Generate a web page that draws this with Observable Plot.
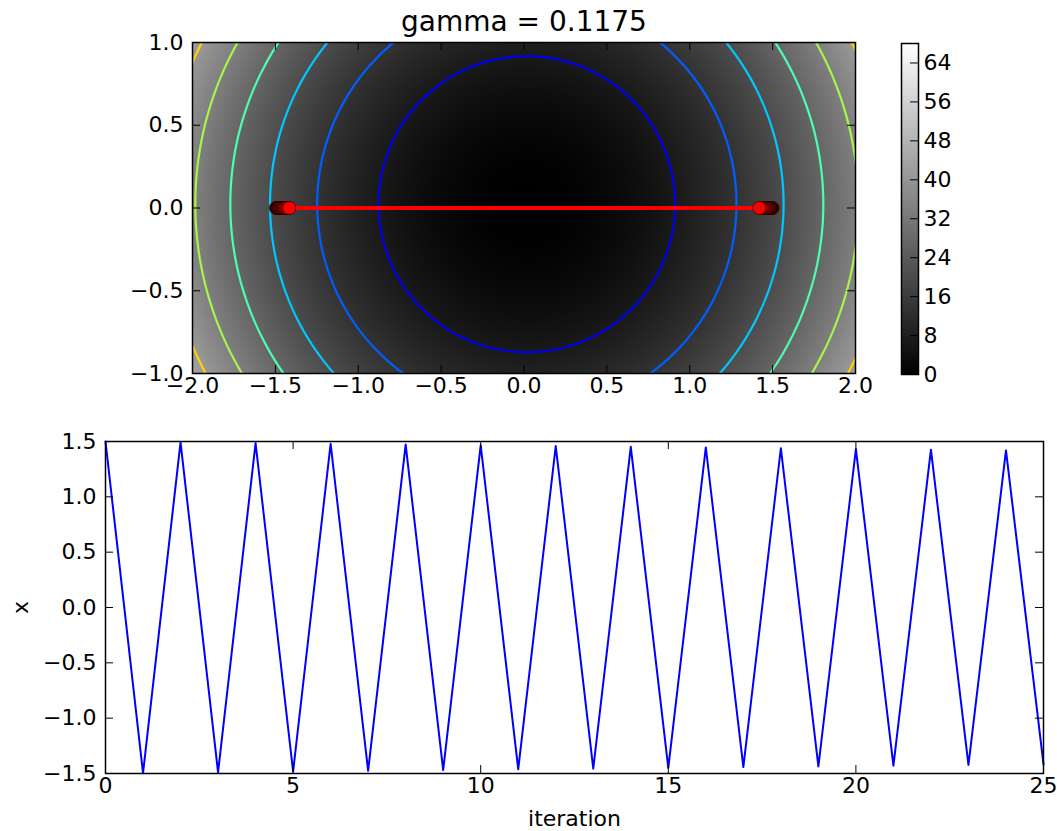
<!DOCTYPE html>
<html><head><meta charset="utf-8">
<script src="https://cdn.jsdelivr.net/npm/d3@7"></script>
<script src="https://cdn.jsdelivr.net/npm/@observablehq/plot@0.6"></script>
<style>
body{margin:0;background:#fff;font-family:"DejaVu Sans",sans-serif;}
#fig{position:relative;width:1057px;height:831px;overflow:hidden;background:#fff;}
#fig > svg{position:absolute;}
</style></head><body><div id="fig"></div>
<script>
// ---- data ----
const titleText = "gamma = 0.1175";
const iterations = [0,1,2,3,4,5,6,7,8,9,10,11,12,13,14,15,16,17,18,19,20,21,22,23,24,25];
const xValues = [1.500,-1.497,1.493,-1.490,1.486,-1.483,1.479,-1.476,1.472,-1.469,1.466,-1.462,1.459,
                 -1.456,1.452,-1.449,1.446,-1.442,1.439,-1.436,1.432,-1.429,1.426,-1.423,1.419,-1.416];
const yValues = [0,0,0,0,0,0,0,0,0,0,0,0,0,0,0,0,0,0,0,0,0,0,0,0,0,0];
const fieldCoef = 8.5;          // f(x,y) = 8.5 * (x^2 + y^2)
const fieldCenter = [0.017, 0.023];
const colorMax = 68;
const contourLevels = [6.8, 13.6, 20.4, 27.2, 34.0, 40.8];
const contourColors = ["#0000ee", "#005eff", "#00c8ff", "#4cffb0", "#a6f54a", "#ffd200"];
const xTicksTop = [-2,-1.5,-1,-0.5,0,0.5,1,1.5,2];
const yTicksTop = [-1,-0.5,0,0.5,1];
const cbTicks = [0,8,16,24,32,40,48,56,64];
const xTicksBottom = [0,5,10,15,20,25];
const yTicksBottom = [-1.5,-1,-0.5,0,0.5,1,1.5];

const field = (x, y) => fieldCoef * ((x - fieldCenter[0]) ** 2 + (y - fieldCenter[1]) ** 2);
const path = xValues.map((x, i) => ({x, y: yValues[i], i}));
const fmt1 = d3.format(".1f");
const dotColor = d3.interpolateRgb("#2b0000", "#ff0000");
const baseStyle = {fontFamily: "DejaVu Sans", fontSize: "22px", color: "#000", background: "transparent", overflow: "visible"};
const TICK = 8;

const fig = document.getElementById("fig");
function place(svg, left, top) { svg.style.left = left + "px"; svg.style.top = top + "px"; fig.appendChild(svg); }

// ---- top contour panel ----
{
  const W = 880, H = 410, mL = 192, mR = 25, mT = 42, mB = 37;
  const fw = W - mL - mR, fh = H - mT - mB;
  const p = Plot.plot({
    width: W, height: H, marginLeft: mL, marginRight: mR, marginTop: mT, marginBottom: mB,
    x: {domain: [-2, 2]}, y: {domain: [-1, 1]},
    color: {type: "linear", domain: [0, colorMax], range: ["black", "white"]},
    style: baseStyle,
    marks: [
      Plot.raster({fill: (x, y) => field(x, y), x1: -2, x2: 2, y1: -1, y2: 1}),
      ...contourLevels.map((t, i) => Plot.contour({
        value: (x, y) => field(x, y), x1: -3, x2: 3, y1: -3, y2: 3,
        thresholds: [t], stroke: contourColors[i], strokeWidth: 2.2, fill: "none", clip: true
      })),
      Plot.line(path, {x: "x", y: "y", stroke: "red", strokeWidth: 4}),
      ...path.map((d, i) => Plot.dot([d], {x: "x", y: "y", r: 6.5, fill: dotColor(i / (path.length - 1)), stroke: "#1a0000", strokeWidth: 1, strokeOpacity: 0.6})),
      Plot.frame({stroke: "black", strokeWidth: 1.5}),
      Plot.tickX(xTicksTop, {x: d => d, insetTop: fh - TICK, stroke: "black"}),
      Plot.tickX(xTicksTop, {x: d => d, insetBottom: fh - TICK, stroke: "black"}),
      Plot.tickY(yTicksTop, {y: d => d, insetRight: fw - TICK, stroke: "black"}),
      Plot.tickY(yTicksTop, {y: d => d, insetLeft: fw - TICK, stroke: "black"}),
      Plot.axisX(xTicksTop, {tickSize: 0, tickPadding: 4, tickFormat: fmt1, label: null}),
      Plot.axisY(yTicksTop, {tickSize: 0, tickPadding: 9, tickFormat: fmt1, label: null}),
      Plot.text([titleText], {frameAnchor: "top", lineAnchor: "middle", dy: -20, fontSize: 28})
    ]
  });
  place(p, 0, 0);
}

// ---- colorbar ----
{
  const W = 120, H = 410, mL = 21, mR = 82, mT = 43, mB = 36;
  const fw = W - mL - mR;
  const p = Plot.plot({
    width: W, height: H, marginLeft: mL, marginRight: mR, marginTop: mT, marginBottom: mB,
    x: {domain: [0, 1], axis: null}, y: {domain: [0, colorMax]},
    color: {type: "linear", domain: [0, colorMax], range: ["black", "white"]},
    style: baseStyle,
    marks: [
      Plot.raster({fill: (x, y) => y, x1: 0, x2: 1, y1: 0, y2: colorMax}),
      Plot.frame({stroke: "black", strokeWidth: 1.5}),
      Plot.tickY(cbTicks, {y: d => d, insetLeft: fw - TICK, stroke: "black"}),
      Plot.axisY(cbTicks, {anchor: "right", tickSize: 0, tickPadding: 5, label: null})
    ]
  });
  place(p, 880, 0);
}

// ---- bottom line panel ----
{
  const W = 1057, H = 411, mL = 105, mR = 14, mT = 21, mB = 58;
  const fw = W - mL - mR, fh = H - mT - mB;
  const series = iterations.map((it, i) => ({it, x: xValues[i]}));
  const p = Plot.plot({
    width: W, height: H, marginLeft: mL, marginRight: mR, marginTop: mT, marginBottom: mB,
    x: {domain: [0, 25]}, y: {domain: [-1.5, 1.5]},
    style: baseStyle,
    marks: [
      Plot.line(series, {x: "it", y: "x", stroke: "blue", strokeWidth: 2}),
      Plot.frame({stroke: "black", strokeWidth: 1.5}),
      Plot.tickX(xTicksBottom, {x: d => d, insetTop: fh - TICK, stroke: "black"}),
      Plot.tickX(xTicksBottom, {x: d => d, insetBottom: fh - TICK, stroke: "black"}),
      Plot.tickY(yTicksBottom, {y: d => d, insetRight: fw - TICK, stroke: "black"}),
      Plot.tickY(yTicksBottom, {y: d => d, insetLeft: fw - TICK, stroke: "black"}),
      Plot.axisX(xTicksBottom, {tickSize: 0, tickPadding: 4, label: null}),
      Plot.axisY(yTicksBottom, {tickSize: 0, tickPadding: 9, tickFormat: fmt1, label: null}),
      Plot.text(["iteration"], {frameAnchor: "bottom", lineAnchor: "middle", dy: 45, fontSize: 22}),
      Plot.text(["x"], {frameAnchor: "left", textAnchor: "middle", lineAnchor: "middle", dx: -85, rotate: -90, fontSize: 22})
    ]
  });
  place(p, 0, 420);
}
</script>
</body></html>
